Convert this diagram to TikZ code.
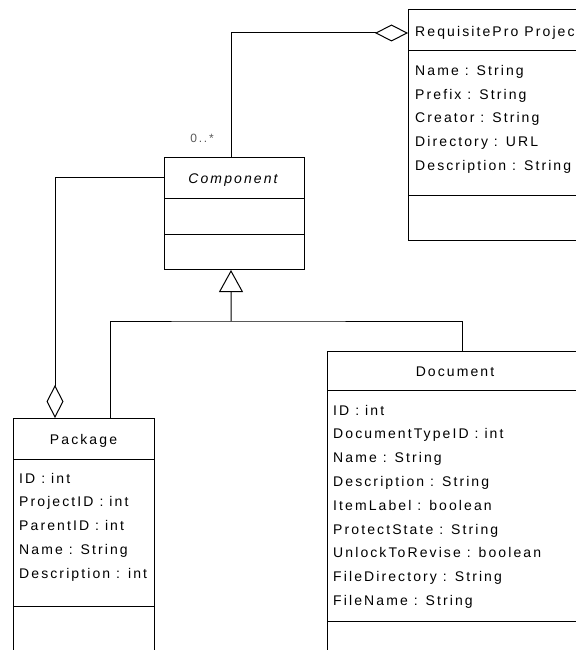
\documentclass[tikz,border=0pt]{standalone}
\usepackage{fontspec}
\setmainfont{Liberation Sans}[LetterSpace=15]
\usetikzlibrary{arrows.meta}

\tikzset{
  umlbox/.style={draw, line width=1bp, anchor=north west, inner sep=0pt, fill=white},
  sep/.style={line width=1bp},
  conn/.style={line width=1bp},
  aggr/.style={conn, -{Diamond[open, length=33bp, width=17bp]}},
  gener/.style={conn, -{Triangle[open, length=22bp, width=24bp]}},
  attr/.style={anchor=base west, inner sep=0pt, font=\fontsize{14bp}{17bp}\selectfont},
  title/.style={anchor=base, inner sep=0pt, font=\fontsize{14bp}{17bp}\selectfont},
  mult/.style={anchor=base, inner sep=0pt, text=black!65, font=\fontsize{12bp}{14bp}\selectfont},
}

\begin{document}
\begin{tikzpicture}[x=1bp, y=-1bp]
\useasboundingbox (0,0) rectangle (576,650);
\clip (0,0) rectangle (576,650);

% class boxes
\node[umlbox, minimum width=192bp, minimum height=231bp] (req) at (408,9) {};
\node[umlbox, minimum width=140bp, minimum height=112bp] (comp) at (164,157) {};
\node[umlbox, minimum width=141bp, minimum height=270bp] (pkg) at (13,418) {};
\node[umlbox, minimum width=256bp, minimum height=330bp] (doc) at (327,351) {};

% compartment separators
\draw[sep] ([yshift=-42bp]req.north west) -- ([yshift=-42bp]req.north east);
\draw[sep] ([yshift=-186bp]req.north west) -- ([yshift=-186bp]req.north east);
\draw[sep] ([yshift=-41bp]comp.north west) -- ([yshift=-41bp]comp.north east);
\draw[sep] ([yshift=-77bp]comp.north west) -- ([yshift=-77bp]comp.north east);
\draw[sep] ([yshift=-41bp]pkg.north west) -- ([yshift=-41bp]pkg.north east);
\draw[sep] ([yshift=-188bp]pkg.north west) -- ([yshift=-188bp]pkg.north east);
\draw[sep] ([yshift=-39bp]doc.north west) -- ([yshift=-39bp]doc.north east);
\draw[sep] ([yshift=-270bp]doc.north west) -- ([yshift=-270bp]doc.north east);

% class names
\node[attr] (reqname) at (415,36.5) {RequisitePro Project};
\node[title] (compname) at (233,183) {\itshape Component};
\node[title] (pkgname) at (83.5,444) {Package};
\node[title] (docname) at (455,376) {Document};

% attributes
\foreach \t [count=\i from 0] in {Name : String, Prefix : String, Creator : String, Directory : URL, Description : String}
  \node[attr] (reqa\i) at (415,76+23.5*\i) {\t};
\foreach \t [count=\i from 0] in {ID : int, ProjectID : int, ParentID : int, Name : String, Description : int}
  \node[attr] (pkga\i) at (19,483+23.8*\i) {\t};
\foreach \t [count=\i from 0] in {ID : int, DocumentTypeID : int, Name : String, Description : String, ItemLabel : boolean, ProtectState : String, UnlockToRevise : boolean, FileDirectory : String, FileName : String}
  \node[attr] (doca\i) at (333,415+23.8*\i) {\t};

% aggregations
\draw[aggr] ([xshift=67bp]comp.north west) |- ([yshift=-24bp]req.north west);
\node[mult] (compmult) at (202,142) {0..*};
\draw[aggr] ([yshift=-20bp]comp.north west) -| ([xshift=42bp]pkg.north west);

% generalization
\coordinate (genjoin) at (231,321);
\draw[conn] ([xshift=97bp]pkg.north west) |- (genjoin) -| ([xshift=135bp]doc.north west);
\draw[gener] (genjoin) -- ([xshift=67bp]comp.south west);
\end{tikzpicture}
\end{document}
